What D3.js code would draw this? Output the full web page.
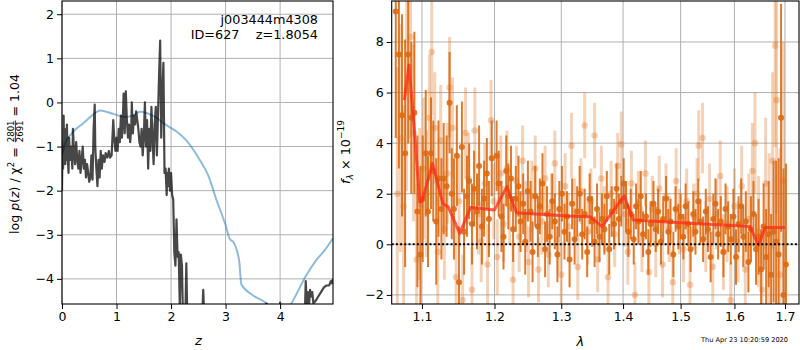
<!DOCTYPE html>
<html>
<head>
<meta charset="utf-8">
<script src="https://cdn.jsdelivr.net/npm/d3@7"></script>
<style>
  body { margin: 0; background: #fff; }
  svg { font-family: "DejaVu Sans", sans-serif; }
</style>
</head>
<body>
<div id="chart"></div>
<script>
// ---- data ----
// left panel: log p(z) (dark line) and a smooth prior-like curve (blue)
var pzZ = [0.00,0.01,0.02,0.03,0.04,0.05,0.06,0.07,0.08,0.09,0.10,0.12,0.13,0.15,0.17,0.19,0.20,0.22,0.24,0.26,0.28,0.30,0.32,0.34,0.36,0.38,0.40,0.42,0.44,0.46,0.48,0.50,0.52,0.54,0.56,0.58,0.60,0.61,0.63,0.65,0.67,0.69,0.71,0.73,0.75,0.78,0.80,0.83,0.86,0.88,0.91,0.94,0.96,0.98,1.00,1.02,1.04,1.06,1.08,1.10,1.12,1.13,1.15,1.17,1.19,1.21,1.23,1.25,1.27,1.28,1.30,1.32,1.34,1.36,1.38,1.40,1.42,1.44,1.46,1.48,1.50,1.52,1.54,1.56,1.58,1.60,1.62,1.64,1.66,1.68,1.70,1.72,1.74,1.76,1.78,1.80,1.82,1.84,1.86,1.88,1.90,1.92,1.93,1.94,1.96,1.98,2.00,2.02,2.04,2.06,2.08,2.10,2.12,2.14,2.16,2.18,2.20,2.22,2.26,2.28,2.30,2.50,2.57,2.59,2.61,2.65,3.74,3.75,3.77,3.99,4.00,4.01,4.45,4.47,4.49,4.51,4.53,4.55,4.57,4.59,4.61,4.65,4.70,4.75,4.80,4.85,4.90,4.93,4.95,4.97];
var pzLog = [-2.0,-0.9,-1.5,-0.3,-1.2,-0.6,-1.4,-0.8,-1.3,-0.5,-1.1,-1.6,-0.8,-1.3,-1.0,-1.5,-0.6,-1.1,-1.4,-0.9,-1.3,-1.5,-1.1,-1.6,-1.3,-1.0,-1.5,-1.3,-1.7,-1.4,-1.6,-1.8,-1.7,-1.2,-1.75,-0.6,-0.05,-1.0,-1.5,-1.9,-1.3,-1.7,-1.1,-1.5,-1.2,-1.35,-1.15,-1.25,-1.1,-1.25,-1.2,-0.4,-0.85,-1.1,-0.8,-1.1,-0.6,-0.9,-0.3,-0.8,-0.2,0.2,-0.7,0.25,-0.4,-0.8,-0.5,-0.9,-0.6,0.0,-0.7,-0.3,-0.5,-0.2,-0.4,-0.6,-0.9,-1.0,-0.6,-1.2,-0.8,0.0,-1.0,-0.4,-1.5,-0.6,-1.1,-0.1,-0.8,-1.4,-0.5,-0.1,-1.2,-0.3,0.6,1.4,-0.8,0.2,0.9,-1.6,-1.5,-2.1,-1.6,-1.9,-1.5,-2.0,-1.6,-2.1,-2.2,-3.4,-3.7,-2.65,-3.5,-3.4,-4.6,-3.45,-3.7,-5.0,-5.0,-3.65,-5.0,-5.0,-4.9,-4.25,-4.9,-5.0,-5.0,-4.56,-5.0,-5.0,-4.54,-5.0,-5.0,-4.05,-4.6,-4.3,-4.6,-4.25,-4.4,-4.3,-4.55,-4.5,-4.4,-4.3,-4.2,-4.15,-4.15,-4.05,-4.1,-4.0];
var priorZ = [0.00,0.05,0.18,0.39,0.55,0.70,0.94,1.15,1.30,1.43,1.70,1.92,2.10,2.28,2.53,2.68,2.83,3.00,3.08,3.14,3.25,3.29,3.50,3.75,3.85,4.10,4.20,4.48,4.66,4.82,4.97];
var priorLog = [-1.2,-0.95,-0.7,-0.47,-0.3,-0.18,-0.26,-0.33,-0.3,-0.21,-0.32,-0.52,-0.66,-0.86,-1.31,-1.65,-2.2,-2.78,-3.1,-3.16,-3.6,-4.13,-4.37,-4.56,-4.7,-4.75,-4.57,-3.92,-3.58,-3.35,-3.08];

// right panel: binned spectrum, two sets of points (dark + faint) and the model
var darkWave = [1.066,1.070,1.074,1.078,1.082,1.086,1.090,1.094,1.098,1.101,1.105,1.108,1.112,1.115,1.119,1.122,1.126,1.129,1.133,1.137,1.140,1.143,1.147,1.150,1.154,1.157,1.161,1.164,1.168,1.171,1.175,1.178,1.182,1.185,1.189,1.192,1.196,1.203,1.206,1.210,1.213,1.217,1.220,1.224,1.227,1.231,1.235,1.238,1.242,1.245,1.249,1.253,1.256,1.260,1.264,1.267,1.271,1.275,1.278,1.282,1.286,1.290,1.294,1.297,1.301,1.305,1.309,1.313,1.317,1.321,1.325,1.329,1.333,1.337,1.341,1.345,1.349,1.353,1.357,1.361,1.365,1.369,1.373,1.377,1.381,1.385,1.389,1.393,1.397,1.401,1.405,1.409,1.413,1.418,1.422,1.426,1.430,1.434,1.439,1.443,1.447,1.452,1.456,1.460,1.465,1.469,1.474,1.478,1.482,1.487,1.491,1.496,1.500,1.505,1.509,1.514,1.518,1.523,1.527,1.532,1.536,1.541,1.546,1.550,1.555,1.560,1.564,1.569,1.574,1.579,1.583,1.588,1.593,1.598,1.603,1.608,1.613,1.617,1.622,1.627,1.632,1.637,1.642,1.647,1.652,1.657,1.662,1.667,1.672,1.677,1.682,1.687,1.692,1.697,1.702];
var darkFlux = [9.2,7.5,5.1,3.6,7.5,5.0,5.2,1.3,-0.4,1.8,3.6,1.3,3.6,2.9,0.9,2.6,1.4,2.6,2.3,5.6,2.0,1.4,3.5,-1.5,3.85,0.5,1.9,2.5,0.8,2.2,1.3,3.1,0.7,1.8,2.8,1.0,3.4,3.5,2.4,1.1,0.3,2.9,1.9,2.6,0.6,1.8,2.3,0.9,1.6,0.1,2.1,1.3,-0.3,1.9,0.7,1.5,2.4,-0.2,1.2,0.3,1.7,0.9,-0.4,1.4,2.0,0.5,1.1,-0.6,1.6,0.2,1.3,2.0,0.4,1.2,-0.3,1.8,0.9,0.1,1.4,0.3,1.0,0.6,1.9,-0.2,1.3,0.8,2.2,1.0,1.7,2.4,1.5,0.5,1.2,0.2,1.5,0.9,1.9,0.4,1.1,-0.3,0.8,1.6,0.6,1.3,0.1,1.0,1.8,0.5,0.9,-0.4,1.4,0.7,1.1,0.3,1.5,0.8,-0.2,1.2,0.5,1.7,0.9,0.2,1.3,0.6,-0.5,1.0,1.6,0.4,0.9,-0.3,1.4,0.7,0.2,1.1,-0.5,0.8,1.5,0.3,0.9,-0.7,0.6,1.2,-0.2,0.3,-1.0,0.7,-0.5,0.4,-1.2,0.5,0.1,-0.4,5.0,-2.0,-0.8];
var darkErr = [5,4.5,4,4.5,3.5,3,3.2,3,3.5,2.5,2.5,2.2,2.2,2,2.5,2.3,2,2.2,2,2,1.8,2,2,2.2,1.8,1.7,1.6,1.5,1.6,1.5,1.5,1.6,1.5,1.5,1.4,1.5,1.5,1.4,1.3,1.4,1.3,1.4,1.3,1.3,1.3,1.3,1.2,1.2,1.2,1.3,1.2,1.2,1.2,1.2,1.2,1.1,1.2,1.1,1.1,1.1,1.1,1.1,1.1,1.1,1.1,1.1,1.0,1.1,1.0,1.0,1.0,1.1,1.0,1.0,1.0,1.0,1.0,1.0,1.0,1.0,1.0,1.0,1.0,1.0,1.0,1.0,1.0,1.0,1.0,1.0,1.0,1.0,1.0,1.0,0.9,0.9,1.0,0.9,0.9,0.9,0.9,0.9,0.9,0.9,0.9,0.9,0.9,0.9,0.9,0.9,0.9,0.9,0.9,0.9,0.9,0.9,0.9,0.9,0.9,0.9,0.9,0.9,0.9,0.9,1.0,1.0,1.0,1.0,1.0,1.0,1.0,1.0,1.0,1.1,1.1,1.1,1.1,1.2,1.2,1.2,1.3,1.3,1.4,1.5,1.6,1.7,1.9,2.1,2.4,2.8,3.2,3.8,4.5,5.0,4.0];

var lightWave = [1.068,1.072,1.076,1.080,1.085,1.089,1.093,1.097,1.102,1.106,1.110,1.113,1.117,1.121,1.125,1.130,1.134,1.137,1.141,1.146,1.150,1.155,1.159,1.163,1.168,1.172,1.177,1.181,1.186,1.190,1.195,1.199,1.204,1.209,1.213,1.218,1.222,1.227,1.232,1.236,1.241,1.246,1.250,1.255,1.260,1.265,1.270,1.275,1.280,1.285,1.290,1.295,1.300,1.306,1.311,1.316,1.321,1.326,1.331,1.337,1.342,1.347,1.353,1.358,1.364,1.369,1.375,1.380,1.386,1.391,1.397,1.403,1.408,1.414,1.420,1.426,1.432,1.438,1.444,1.450,1.456,1.462,1.468,1.474,1.480,1.486,1.492,1.498,1.505,1.511,1.517,1.524,1.530,1.533,1.540,1.546,1.553,1.559,1.566,1.573,1.579,1.586,1.593,1.600,1.607,1.614,1.621,1.628,1.635,1.640,1.647,1.654,1.661,1.668,1.675,1.680,1.683,1.690,1.697];
var lightFlux = [2.0,4.2,1.5,6.1,8.2,4.4,-0.6,1.6,3.0,2.0,5.0,7.6,4.6,-0.3,4.1,0.6,2.8,6.2,4.6,-1.3,1.7,-2.2,4.4,2.6,-1.8,4.5,1.2,0.1,2.4,-0.8,4.9,1.7,-0.5,2.8,0.8,3.0,1.5,-1.4,2.5,0.3,3.3,1.1,-0.7,1.9,3.0,-1.0,0.9,2.6,-0.4,1.5,3.2,0.2,-1.2,2.3,0.7,3.9,1.3,-0.9,2.1,4.7,0.5,1.7,4.3,-0.6,2.6,1.0,-1.3,2.0,0.4,3.1,3.95,1.2,-0.3,2.4,-2.0,1.6,0.2,2.8,-1.1,1.4,0.0,2.2,-0.8,1.9,0.6,-1.5,2.5,0.9,-0.2,1.7,-1.6,1.1,2.0,3.9,4.2,0.3,1.8,-0.9,1.2,2.7,-0.3,0.8,-2.2,1.5,0.1,2.3,-1.0,1.0,2.9,4.0,0.5,-1.8,2.4,0.6,3.3,7.85,5.7,-1.2,2.5];
var lightErr = [5,4.5,4,4,4,3.5,3,3,2.8,2.5,2.5,2.5,2.2,2.2,2.2,2,2,2,2,2,1.8,1.8,1.8,1.8,1.7,1.7,1.6,1.6,1.6,1.6,1.6,1.5,1.5,1.5,1.5,1.5,1.5,1.4,1.4,1.4,1.4,1.4,1.4,1.4,1.3,1.3,1.3,1.3,1.3,1.3,1.3,1.3,1.3,1.3,1.3,1.3,1.3,1.3,1.3,1.3,1.3,1.3,1.3,1.3,1.3,1.3,1.3,1.3,1.3,1.3,1.3,1.3,1.3,1.3,1.3,1.3,1.3,1.3,1.3,1.3,1.3,1.3,1.3,1.3,1.3,1.3,1.3,1.3,1.3,1.3,1.3,1.3,1.4,1.4,1.4,1.4,1.4,1.4,1.4,1.4,1.5,1.5,1.5,1.5,1.6,1.6,1.7,1.8,1.9,2.0,2.2,2.4,2.6,3.0,3.5,4,4.5,5,5.5];

var modelWave = [1.077,1.083,1.090,1.097,1.100,1.114,1.128,1.135,1.151,1.166,1.200,1.218,1.232,1.310,1.346,1.365,1.402,1.417,1.500,1.630,1.647,1.660,1.700];
var modelFlux = [5.7,7.09,4.5,1.68,1.7,3.2,1.6,1.49,0.43,1.46,1.36,2.28,1.25,1.12,1.09,0.70,1.92,0.96,0.85,0.70,-0.03,0.66,0.66];

var zTicks = [0, 1, 2, 3, 4];
var pzTicks = [-4, -3, -2, -1, 0, 1, 2];
var waveTicks = [1.1, 1.2, 1.3, 1.4, 1.5, 1.6, 1.7];
var fluxTicks = [-2, 0, 2, 4, 6, 8];

// ---- layout ----
var W = 800, H = 350;
var left = { x0: 62, x1: 333, y0: 1, y1: 304 };
var right = { x0: 391.7, x1: 799, y0: 1, y1: 304 };
var gridColor = "#b0b0b0";
var darkColor = "#dc6a14";

var svg = d3.select("#chart").append("svg")
    .attr("width", W).attr("height", H);

function minus(v) { return String(v).replace("-", "\u2212"); }

function drawFrame(p, x, y, xt, yt, clipId) {
    // grid under the data
    var g = svg.append("g");
    g.selectAll(".gx").data(xt).enter().append("line")
        .attr("x1", function (d) { return x(d); }).attr("x2", function (d) { return x(d); })
        .attr("y1", p.y0).attr("y2", p.y1)
        .attr("stroke", gridColor).attr("stroke-width", 1);
    g.selectAll(".gy").data(yt).enter().append("line")
        .attr("y1", function (d) { return y(d); }).attr("y2", function (d) { return y(d); })
        .attr("x1", p.x0).attr("x2", p.x1)
        .attr("stroke", gridColor).attr("stroke-width", 1);
    svg.append("clipPath").attr("id", clipId).append("rect")
        .attr("x", p.x0).attr("y", p.y0).attr("width", p.x1 - p.x0).attr("height", p.y1 - p.y0);
}

function drawAxes(p, x, y, xt, yt, xfmt) {
    var xa = d3.axisBottom(x).tickValues(xt).tickSize(5).tickPadding(3).tickFormat(xfmt);
    var ya = d3.axisLeft(y).tickValues(yt).tickSize(5).tickPadding(3).tickFormat(minus);
    var gx = svg.append("g").attr("transform", "translate(0," + p.y1 + ")").call(xa);
    var gy = svg.append("g").attr("transform", "translate(" + p.x0 + ",0)").call(ya);
    [gx, gy].forEach(function (a) {
        a.select(".domain").remove();
        a.selectAll("text").attr("font-size", "12.5px").attr("fill", "#000")
            .attr("font-family", "DejaVu Sans, sans-serif");
        a.selectAll("line").attr("stroke", "#000").attr("stroke-width", 1);
    });
    svg.append("rect").attr("x", p.x0).attr("y", p.y0)
        .attr("width", p.x1 - p.x0).attr("height", p.y1 - p.y0)
        .attr("fill", "none").attr("stroke", "#000").attr("stroke-width", 1.1);
}

// ================= left panel =================
var xz = d3.scaleLinear().domain([0, 4.97]).range([left.x0, left.x1]);
var ypz = d3.scaleLinear().domain([-4.57, 2.30]).range([left.y1, left.y0]);
drawFrame(left, xz, ypz, zTicks, pzTicks, "clipL");

var gl = svg.append("g").attr("clip-path", "url(#clipL)");
gl.append("path")
    .datum(d3.zip(priorZ, priorLog))
    .attr("d", d3.line().curve(d3.curveMonotoneX)
        .x(function (d) { return xz(d[0]); }).y(function (d) { return ypz(d[1]); }))
    .attr("fill", "none").attr("stroke", "#1f77b4").attr("stroke-opacity", 0.5).attr("stroke-width", 2);
gl.append("path")
    .datum(d3.zip(pzZ, pzLog))
    .attr("d", d3.line().x(function (d) { return xz(d[0]); }).y(function (d) { return ypz(d[1]); }))
    .attr("fill", "none").attr("stroke", "#000").attr("stroke-opacity", 0.72)
    .attr("stroke-width", 2.2).attr("stroke-linejoin", "round");

drawAxes(left, xz, ypz, zTicks, pzTicks, d3.format("d"));

svg.append("text").attr("x", 318).attr("y", 24).attr("text-anchor", "end")
    .attr("font-size", "12.8px").text("j003444m4308");
svg.append("text").attr("x", 318).attr("y", 39).attr("text-anchor", "end")
    .attr("font-size", "12.8px").attr("xml:space", "preserve").text("ID=627    z=1.8054");

svg.append("text").attr("x", xz(2.5)).attr("y", 345).attr("text-anchor", "middle")
    .attr("font-size", "13px").attr("font-style", "italic").text("z");

// rotated y label with a small stacked fraction
var yl = svg.append("g").attr("transform", "translate(19,154) rotate(-90)");
var inner = yl.append("g");
var t1 = inner.append("text").attr("font-size", "12.5px").attr("x", 0).attr("y", 0);
t1.append("tspan").text("log ");
t1.append("tspan").attr("font-style", "italic").text("p");
t1.append("tspan").text("(");
t1.append("tspan").attr("font-style", "italic").text("z");
t1.append("tspan").text(") / \u03C7");
t1.append("tspan").attr("font-size", "8.6px").attr("dy", -5).text("2");
t1.append("tspan").attr("dy", 5).attr("xml:space", "preserve").text(" = ");
var w1 = t1.node().getBBox().width + 1;
var num = inner.append("text").attr("font-size", "8.6px").attr("x", w1).attr("y", -5.5).text("2801");
var wf = num.node().getBBox().width;
inner.append("text").attr("font-size", "8.6px").attr("x", w1).attr("y", 3.5).text("2691");
inner.append("line").attr("x1", w1).attr("x2", w1 + wf).attr("y1", -3.6).attr("y2", -3.6)
    .attr("stroke", "#000").attr("stroke-width", 0.8);
inner.append("text").attr("font-size", "12.5px").attr("x", w1 + wf).attr("y", 0)
    .attr("xml:space", "preserve").text(" = 1.04");
var bb = inner.node().getBBox();
inner.attr("transform", "translate(" + (-(bb.x + bb.width / 2)) + ",0)");

// ================= right panel =================
var xw = d3.scaleLog().domain([1.0608, 1.7288]).range([right.x0, right.x1]);
var yf = d3.scaleLinear().domain([-2.36, 9.62]).range([right.y1, right.y0]);
drawFrame(right, xw, yf, waveTicks, fluxTicks, "clipR");

var gr = svg.append("g").attr("clip-path", "url(#clipR)");

var lightPts = d3.zip(lightWave, lightFlux, lightErr);
var darkPts = d3.zip(darkWave, darkFlux, darkErr);

// faint set
gr.selectAll(".lbar").data(lightPts).enter().append("line")
    .attr("x1", function (d) { return xw(d[0]); }).attr("x2", function (d) { return xw(d[0]); })
    .attr("y1", function (d) { return yf(d[1] - d[2]); }).attr("y2", function (d) { return yf(d[1] + d[2]); })
    .attr("stroke", darkColor).attr("stroke-opacity", 0.3).attr("stroke-width", 3);
gr.selectAll(".lpt").data(lightPts).enter().append("circle")
    .attr("cx", function (d) { return xw(d[0]); }).attr("cy", function (d) { return yf(d[1]); })
    .attr("r", 3.3).attr("fill", darkColor).attr("fill-opacity", 0.3);

// dark set
gr.selectAll(".dbar").data(darkPts).enter().append("line")
    .attr("x1", function (d) { return xw(d[0]); }).attr("x2", function (d) { return xw(d[0]); })
    .attr("y1", function (d) { return yf(d[1] - d[2]); }).attr("y2", function (d) { return yf(d[1] + d[2]); })
    .attr("stroke", darkColor).attr("stroke-opacity", 0.9).attr("stroke-width", 2);
gr.selectAll(".dpt").data(darkPts).enter().append("circle")
    .attr("cx", function (d) { return xw(d[0]); }).attr("cy", function (d) { return yf(d[1]); })
    .attr("r", 3).attr("fill", darkColor).attr("fill-opacity", 0.9);

// model
gr.append("path")
    .datum(d3.zip(modelWave, modelFlux))
    .attr("d", d3.line().x(function (d) { return xw(d[0]); }).y(function (d) { return yf(d[1]); }))
    .attr("fill", "none").attr("stroke", "#ff2a1a").attr("stroke-opacity", 0.75)
    .attr("stroke-width", 3).attr("stroke-linejoin", "round");

// zero line
gr.append("line").attr("x1", right.x0).attr("x2", right.x1)
    .attr("y1", yf(0)).attr("y2", yf(0))
    .attr("stroke", "#000").attr("stroke-width", 2).attr("stroke-dasharray", "2,2.2");

drawAxes(right, xw, yf, waveTicks, fluxTicks, d3.format(".1f"));

svg.append("text").attr("x", xw(1.33)).attr("y", 346).attr("text-anchor", "middle")
    .attr("font-size", "13px").attr("font-style", "italic").text("\u03BB");

var yr = svg.append("text").attr("transform", "translate(350,152) rotate(-90)")
    .attr("text-anchor", "middle").attr("font-size", "12.8px");
yr.append("tspan").attr("font-style", "italic").text("f");
yr.append("tspan").attr("font-style", "italic").attr("font-size", "9px").attr("dy", 3).text("\u03BB");
yr.append("tspan").attr("dy", -3).text(" \u00D7 10");
yr.append("tspan").attr("font-size", "9px").attr("dy", -6).text("\u221219");

svg.append("text").attr("x", 788).attr("y", 342).attr("text-anchor", "end")
    .attr("font-size", "6.6px").text("Thu Apr 23 10:20:59 2020");
</script>
</body>
</html>
